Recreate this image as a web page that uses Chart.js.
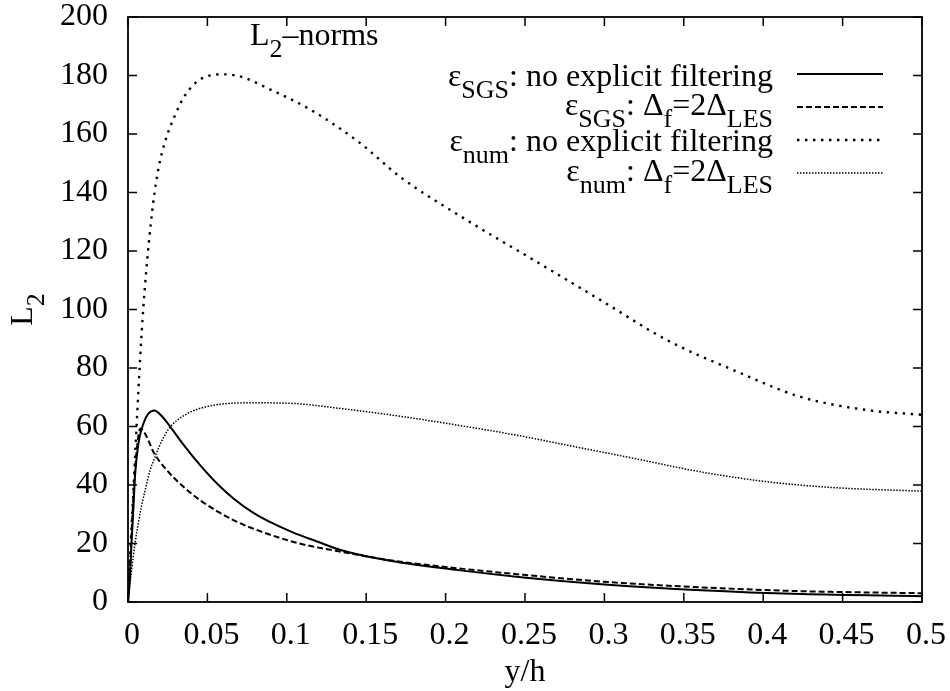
<!DOCTYPE html>
<html>
<head>
<meta charset="utf-8">
<script src="https://cdn.jsdelivr.net/npm/chart.js@4"></script>
<style>
  html, body { margin: 0; padding: 0; background: #fff; }
  #wrap { width: 950px; height: 691px; }
</style>
</head>
<body>
<div id="wrap"><canvas id="c" width="950" height="691"></canvas></div>
<script>
// tick values and labels
const xTickValues = [0, 0.05, 0.1, 0.15, 0.2, 0.25, 0.3, 0.35, 0.4, 0.45, 0.5];
const xTickLabels = ["0", "0.05", "0.1", "0.15", "0.2", "0.25", "0.3", "0.35", "0.4", "0.45", "0.5"];
const yTickValues = [0, 20, 40, 60, 80, 100, 120, 140, 160, 180, 200];
const yTickLabels = ["0", "20", "40", "60", "80", "100", "120", "140", "160", "180", "200"];

// eps_SGS, no explicit filtering
const sgsNoFilterX = [0, 0.0013, 0.0023, 0.0034, 0.0044, 0.0065, 0.0097, 0.0128, 0.0166, 0.0212, 0.0276, 0.0349, 0.0454, 0.057, 0.0664, 0.078, 0.0874, 0.103, 0.12, 0.135, 0.166, 0.208, 0.249, 0.298, 0.361, 0.424, 0.5];
const sgsNoFilterY = [0, 9, 21, 32, 43, 54, 61, 64.4, 65.5, 63.6, 59.2, 53.8, 46.8, 40.0, 35.4, 30.8, 27.9, 24, 20.5, 17.6, 14.0, 10.9, 8.4, 6.1, 4.0, 2.7, 2.0];

// eps_SGS, Delta_f = 2 Delta_LES
const sgsFilterX = [0, 0.0015, 0.0034, 0.0055, 0.0078, 0.0105, 0.0128, 0.016, 0.0244, 0.0349, 0.0454, 0.0664, 0.0874, 0.108, 0.135, 0.166, 0.208, 0.249, 0.298, 0.361, 0.424, 0.5];
const sgsFilterY = [0, 15, 36, 52, 59.3, 57.8, 55.3, 51.3, 45.1, 39.4, 34.8, 28, 23.4, 20, 17.1, 14.2, 11.5, 9.3, 7.0, 5.0, 3.7, 3.0];

// eps_num, no explicit filtering
const numNoFilterX = [0, 0.0013, 0.0034, 0.0055, 0.0076, 0.0097, 0.0128, 0.016, 0.0191, 0.0233, 0.0296, 0.036, 0.0465, 0.0612, 0.0717, 0.0885, 0.1137, 0.1452, 0.1715, 0.2135, 0.2555, 0.2976, 0.3396, 0.3816, 0.4237, 0.4657, 0.5];
const numNoFilterY = [0, 15, 38, 61, 83, 101, 121, 137, 148, 157.3, 166.4, 173.3, 179, 180.4, 179.5, 175.5, 168.7, 157.3, 145.3, 130.5, 116.9, 103.2, 89.5, 79.2, 70.1, 65.6, 64];

// eps_num, Delta_f = 2 Delta_LES
const numFilterX = [0, 0.0023, 0.0044, 0.0065, 0.0086, 0.0107, 0.0139, 0.017, 0.0191, 0.0254, 0.036, 0.0506, 0.078, 0.1032, 0.1347, 0.1663, 0.2083, 0.248, 0.2766, 0.3186, 0.3606, 0.4027, 0.4447, 0.5];
const numFilterY = [0, 11, 20, 27, 33, 38, 45, 49.6, 52.5, 59, 64, 66.9, 68.1, 67.9, 66.1, 63.9, 60.4, 56.7, 53.6, 49.1, 44.5, 41.1, 39.1, 37.9];

// legend texts, split into normal / subscript parts
const legendLabels = [
    [{ t: "ε" }, { t: "SGS", sub: true }, { t: ": no explicit filtering" }],
    [{ t: "ε" }, { t: "SGS", sub: true }, { t: ": Δ" }, { t: "f", sub: true }, { t: "=2Δ" }, { t: "LES", sub: true }],
    [{ t: "ε" }, { t: "num", sub: true }, { t: ": no explicit filtering" }],
    [{ t: "ε" }, { t: "num", sub: true }, { t: ": Δ" }, { t: "f", sub: true }, { t: "=2Δ" }, { t: "LES", sub: true }],
];
const plotTitle = [{ t: "L" }, { t: "2", sub: true }, { t: "–norms" }];
const yTitle = [{ t: "L" }, { t: "2", sub: true }];
const xTitle = "y/h";

const FAMILY = '"Liberation Serif", "Times New Roman", serif';
const MAIN_FONT = `32px ${FAMILY}`;
const SUB_FONT = `26px ${FAMILY}`;
const SUB_SHIFT = 12;

const toPoints = (xs, ys) => xs.map((x, i) => ({ x, y: ys[i] }));

function richWidth(ctx, parts) {
    let w = 0;
    parts.forEach((p) => {
        ctx.font = p.sub ? SUB_FONT : MAIN_FONT;
        w += ctx.measureText(p.t).width;
    });
    return w;
}

function drawRich(ctx, parts, x, y) {
    let cx = x;
    ctx.textAlign = "left";
    ctx.textBaseline = "alphabetic";
    parts.forEach((p) => {
        ctx.font = p.sub ? SUB_FONT : MAIN_FONT;
        ctx.fillText(p.t, cx, p.sub ? y + SUB_SHIFT : y);
        cx += ctx.measureText(p.t).width;
    });
}

const gnuplotFrame = {
    id: "gnuplotFrame",
    afterDatasetsDraw(chart) {
        const { ctx, chartArea: a, scales } = chart;
        const tick = 9;
        ctx.save();
        ctx.strokeStyle = "#000";
        ctx.fillStyle = "#000";

        // inward ticks on all four sides
        ctx.lineWidth = 1.5;
        ctx.beginPath();
        xTickValues.forEach((v) => {
            const px = scales.x.getPixelForValue(v);
            ctx.moveTo(px, a.bottom); ctx.lineTo(px, a.bottom - tick);
            ctx.moveTo(px, a.top); ctx.lineTo(px, a.top + tick);
        });
        yTickValues.forEach((v) => {
            const py = scales.y.getPixelForValue(v);
            ctx.moveTo(a.left, py); ctx.lineTo(a.left + tick, py);
            ctx.moveTo(a.right, py); ctx.lineTo(a.right - tick, py);
        });
        ctx.stroke();

        ctx.lineWidth = 1.8;
        ctx.strokeRect(a.left, a.top, a.right - a.left, a.bottom - a.top);

        // title inside the plot
        drawRich(ctx, plotTitle, 250, 45);

        // legend, right aligned text with line samples
        const textRight = 773, sampleL = 797, sampleR = 883;
        const baseShift = [12, 8, 11, 8];
        chart.data.datasets.forEach((ds, i) => {
            const rowY = 74 + 33 * i;
            const parts = legendLabels[i];
            drawRich(ctx, parts, textRight - richWidth(ctx, parts), rowY + baseShift[i]);
            ctx.save();
            ctx.lineWidth = ds.borderWidth;
            ctx.setLineDash(ds.borderDash || []);
            ctx.lineCap = "butt";
            ctx.beginPath();
            ctx.moveTo(sampleL, rowY);
            ctx.lineTo(sampleR, rowY);
            ctx.stroke();
            ctx.restore();
        });

        // axis titles
        ctx.font = MAIN_FONT;
        ctx.textAlign = "center";
        ctx.textBaseline = "alphabetic";
        ctx.fillText(xTitle, (a.left + a.right) / 2, 681);

        ctx.save();
        ctx.translate(32, (a.top + a.bottom) / 2);
        ctx.rotate(-Math.PI / 2);
        const w = richWidth(ctx, yTitle);
        drawRich(ctx, yTitle, -w / 2, 0);
        ctx.restore();

        ctx.restore();
    },
};

Chart.defaults.font.family = FAMILY;
Chart.defaults.color = "#000";

const lineBase = {
    borderColor: "#000",
    backgroundColor: "#000",
    pointRadius: 0,
    fill: false,
    borderCapStyle: "butt",
    cubicInterpolationMode: "monotone",
};

new Chart(document.getElementById("c"), {
    type: "line",
    data: {
        datasets: [
            { ...lineBase, label: "eps_SGS no filter", data: toPoints(sgsNoFilterX, sgsNoFilterY), borderWidth: 2 },
            { ...lineBase, label: "eps_SGS filter", data: toPoints(sgsFilterX, sgsFilterY), borderWidth: 2, borderDash: [6, 3] },
            { ...lineBase, label: "eps_num no filter", data: toPoints(numNoFilterX, numNoFilterY), borderWidth: 2.4, borderDash: [2.4, 5.6] },
            { ...lineBase, label: "eps_num filter", data: toPoints(numFilterX, numFilterY), borderWidth: 1.5, borderDash: [1.5, 1.5] },
        ],
    },
    options: {
        responsive: false,
        animation: false,
        devicePixelRatio: 1,
        layout: { padding: { top: 17, right: 28, left: 0, bottom: 0 } },
        plugins: { legend: { display: false }, tooltip: { enabled: false } },
        scales: {
            x: {
                type: "linear",
                min: 0,
                max: 0.5,
                grid: { display: false, drawTicks: false },
                border: { display: false },
                afterBuildTicks: (s) => { s.ticks = xTickValues.map((v) => ({ value: v })); },
                afterFit: (s) => { s.height = 89; s.paddingLeft = 0; s.paddingRight = 0; },
                ticks: {
                    autoSkip: false,
                    maxRotation: 0,
                    padding: 14,
                    labelOffset: 4,
                    font: { size: 32 },
                    callback: (v, i) => xTickLabels[i],
                },
            },
            y: {
                type: "linear",
                min: 0,
                max: 200,
                grid: { display: false, drawTicks: false },
                border: { display: false },
                afterBuildTicks: (s) => { s.ticks = yTickValues.map((v) => ({ value: v })); },
                afterFit: (s) => { s.width = 128; s.paddingTop = 0; s.paddingBottom = 0; },
                ticks: {
                    autoSkip: false,
                    padding: 20,
                    font: { size: 32 },
                    callback: (v, i) => yTickLabels[i],
                },
            },
        },
    },
    plugins: [gnuplotFrame],
});
</script>
</body>
</html>
